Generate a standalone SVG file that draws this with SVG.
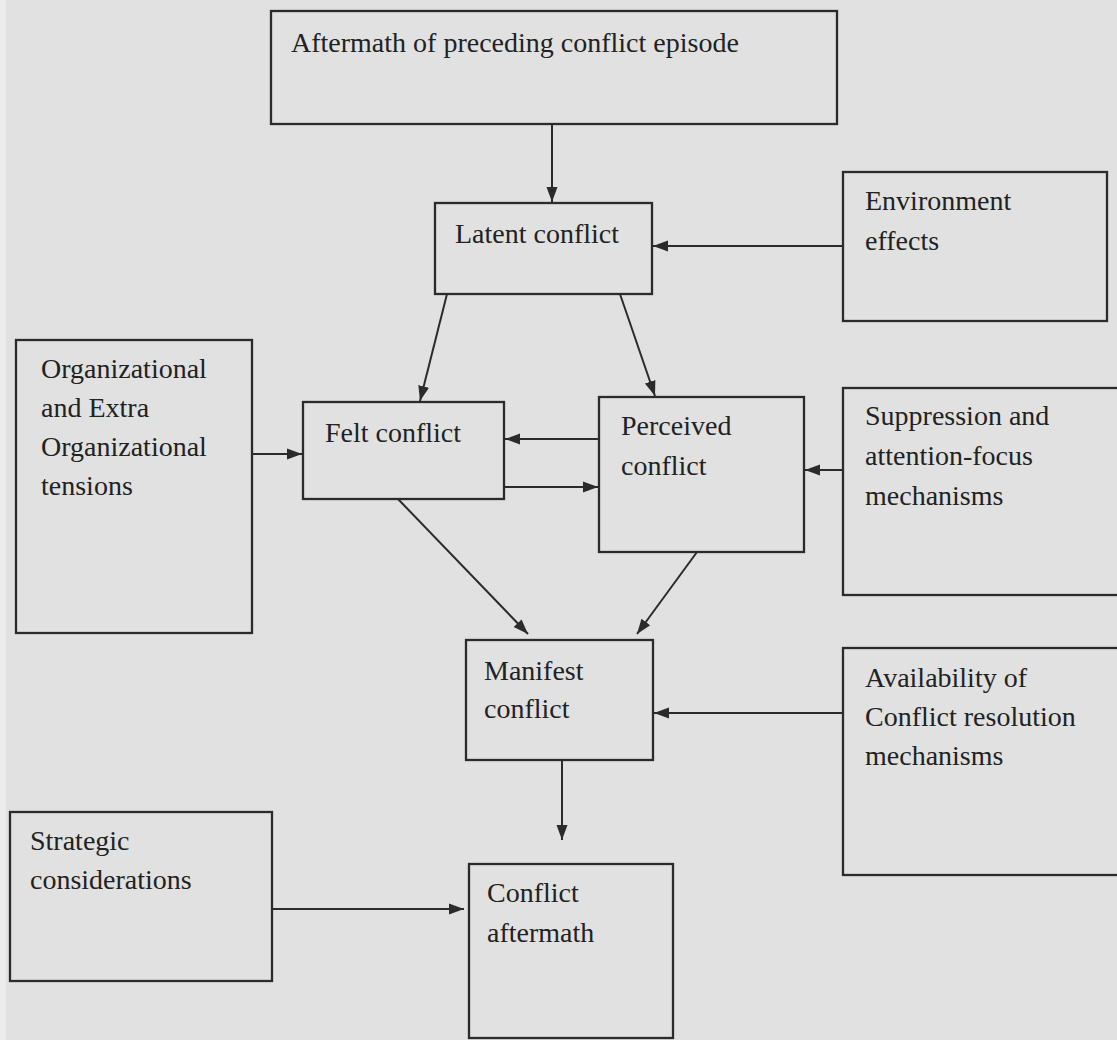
<svg xmlns="http://www.w3.org/2000/svg" width="1117" height="1040" viewBox="0 0 1117 1040">
<defs>
<style>
.box{fill:none;stroke:#2b2b2b;stroke-width:2.3}
.t{font-family:"Liberation Serif","Times New Roman",serif;font-size:28px;fill:#222}
.c{stroke:#2b2b2b;stroke-width:2;fill:none;marker-end:url(#ah)}
</style>
<marker id="ah" markerUnits="userSpaceOnUse" markerWidth="16" markerHeight="14" refX="15" refY="7" orient="auto">
<path d="M0,1.5 L15,7 L0,12.5 z" fill="#2b2b2b"/>
</marker>
</defs>
<rect x="0" y="0" width="1117" height="1040" fill="#e1e1e1"/>
<rect x="0" y="0" width="6" height="1040" fill="#ececec"/>
<g id="connectors">
<line class="c" x1="552" y1="125" x2="552" y2="202"/>
<line class="c" x1="843" y1="246" x2="653" y2="246"/>
<line class="c" x1="447" y1="294" x2="420" y2="401"/>
<line class="c" x1="620" y1="294" x2="655" y2="396"/>
<line class="c" x1="252" y1="454" x2="302" y2="454"/>
<line class="c" x1="599" y1="439" x2="505" y2="439"/>
<line class="c" x1="504" y1="487" x2="598" y2="487"/>
<line class="c" x1="843" y1="470" x2="805" y2="470"/>
<line class="c" x1="398" y1="499" x2="528" y2="634"/>
<line class="c" x1="697" y1="552" x2="637" y2="634"/>
<line class="c" x1="843" y1="713" x2="654" y2="713"/>
<line class="c" x1="562" y1="760" x2="562" y2="840"/>
<line class="c" x1="272" y1="909" x2="464" y2="909"/>
</g>
<g id="n-aftermath-preceding">
<rect class="box" x="271" y="11" width="566" height="113"/>
<text class="t" x="291" y="52">Aftermath of preceding conflict episode</text>
</g>
<g id="n-latent">
<rect class="box" x="435" y="203" width="217" height="91"/>
<text class="t" x="455" y="243">Latent conflict</text>
</g>
<g id="n-environment">
<rect class="box" x="843" y="172" width="264" height="149"/>
<text class="t" x="865" y="210">Environment</text>
<text class="t" x="865" y="250">effects</text>
</g>
<g id="n-org">
<rect class="box" x="16" y="340" width="236" height="293"/>
<text class="t" x="41" y="378">Organizational</text>
<text class="t" x="41" y="417">and Extra</text>
<text class="t" x="41" y="456">Organizational</text>
<text class="t" x="41" y="495">tensions</text>
</g>
<g id="n-felt">
<rect class="box" x="303" y="402" width="201" height="97"/>
<text class="t" x="325" y="442">Felt conflict</text>
</g>
<g id="n-perceived">
<rect class="box" x="599" y="397" width="205" height="155"/>
<text class="t" x="621" y="435">Perceived</text>
<text class="t" x="621" y="475">conflict</text>
</g>
<g id="n-suppression">
<rect class="box" x="843" y="388" width="290" height="207"/>
<text class="t" x="865" y="425">Suppression and</text>
<text class="t" x="865" y="465">attention-focus</text>
<text class="t" x="865" y="505">mechanisms</text>
</g>
<g id="n-manifest">
<rect class="box" x="466" y="640" width="187" height="120"/>
<text class="t" x="484" y="680">Manifest</text>
<text class="t" x="484" y="718">conflict</text>
</g>
<g id="n-availability">
<rect class="box" x="843" y="648" width="290" height="227"/>
<text class="t" x="865" y="687">Availability of</text>
<text class="t" x="865" y="726">Conflict resolution</text>
<text class="t" x="865" y="765">mechanisms</text>
</g>
<g id="n-strategic">
<rect class="box" x="10" y="812" width="262" height="169"/>
<text class="t" x="30" y="850">Strategic</text>
<text class="t" x="30" y="889">considerations</text>
</g>
<g id="n-conflict-aftermath">
<rect class="box" x="469" y="864" width="204" height="174"/>
<text class="t" x="487" y="902">Conflict</text>
<text class="t" x="487" y="942">aftermath</text>
</g>
</svg>
